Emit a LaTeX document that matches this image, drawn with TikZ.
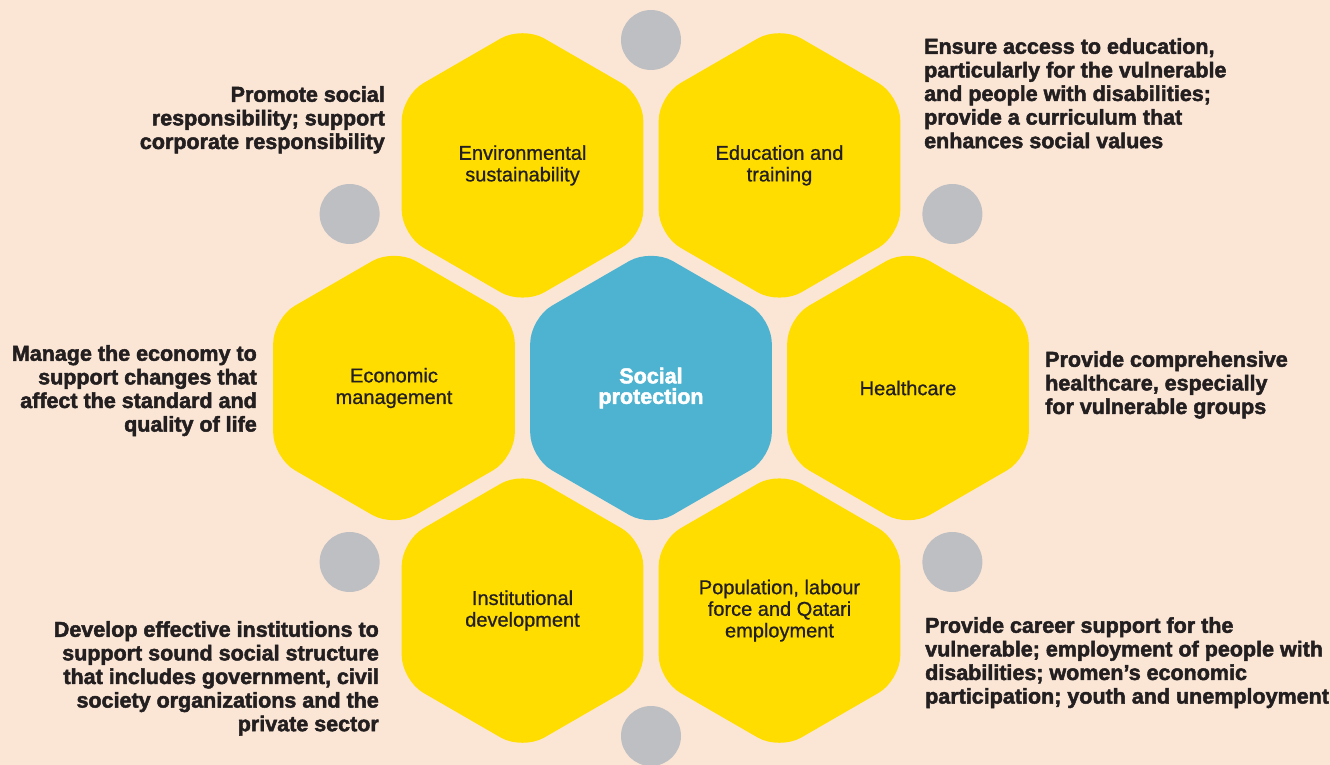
\documentclass[tikz,border=0pt]{standalone}
\usepackage{fontspec}
\usepackage{xcolor}
\usetikzlibrary{shapes.geometric}
\setmainfont{Liberation Sans}
\newfontfamily\labelfamily[FakeBold=0.8]{Liberation Sans}
\newfontfamily\heavyfamily[FakeBold=2.2]{Liberation Sans Bold}
\newcommand\hexfont{\labelfamily\fontsize{20}{21.6}\selectfont}
\newcommand\corefont{\heavyfamily\fontsize{21.5}{20.5}\selectfont}
\newcommand\notefont{\heavyfamily\fontsize{21.5}{23.6}\selectfont}
\definecolor{bgpeach}{RGB}{251,230,214}
\definecolor{hexyellow}{RGB}{255,221,0}
\definecolor{hexblue}{RGB}{78,179,208}
\definecolor{dotgray}{RGB}{190,191,195}
\definecolor{inkdark}{RGB}{35,31,32}

\begin{document}
\begin{tikzpicture}[x=1pt,y=-1pt,
  hexcell/.style={regular polygon,regular polygon sides=6,shape border rotate=30,
    minimum size=279pt,inner sep=0pt,rounded corners=25pt,fill=hexyellow,
    text=inkdark,align=center,font=\hexfont},
  graydot/.style={circle,fill=dotgray,minimum size=60pt,inner sep=0pt},
  note/.style={font=\notefont,text=inkdark,inner sep=0pt}]
\useasboundingbox (0,0) rectangle (1330,765);
\fill[bgpeach] (0,0) rectangle (1330,765);
% honeycomb
\node[hexcell,fill=hexblue,text=white,font=\corefont] (core) at (651,388) {Social\\protection};
\node[hexcell] (envir) at (522.5,165.4) {Environmental\\sustainability};
\node[hexcell] (edu) at (779.5,165.4) {Education and\\training};
\node[hexcell] (econ) at (394,388) {Economic\\management};
\node[hexcell] (health) at (908,388) {Healthcare};
\node[hexcell] (inst) at (522.5,610.6) {Institutional\\development};
\node[hexcell] (popul) at (779.5,610.6) {Population, labour\\force and Qatari\\employment};
% gray dots round the core
\foreach \a [count=\i] in {30,90,...,330}
  \path (core.center) ++(\a:348) node[graydot] (dot\i) {};
% notes
\node[note,anchor=north east,align=right] (envnote) at (385,86)
  {Promote social\\responsibility; support\\corporate responsibility};
\node[note,anchor=north west,align=left] (edunote) at (924,38)
  {Ensure access to education,\\particularly for the vulnerable\\and people with disabilities;\\provide a curriculum that\\enhances social values};
\node[note,anchor=north east,align=right] (econnote) at (257,345)
  {Manage the economy to\\support changes that\\affect the standard and\\quality of life};
\node[note,anchor=north west,align=left] (healthnote) at (1045,351)
  {Provide comprehensive\\healthcare, especially\\for vulnerable groups};
\node[note,anchor=north east,align=right] (instnote) at (379,621)
  {Develop effective institutions to\\support sound social structure\\that includes government, civil\\society organizations and the\\private sector};
\node[note,anchor=north west,align=left] (popnote) at (925,617)
  {Provide career support for the\\vulnerable; employment of people with\\disabilities; women’s economic\\participation; youth and unemployment};
\end{tikzpicture}
\end{document}
